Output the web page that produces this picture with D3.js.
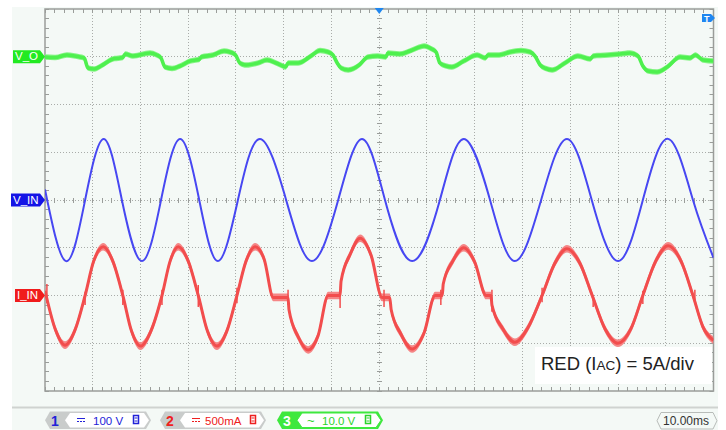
<!DOCTYPE html>
<html>
<head>
<meta charset="utf-8">
<script src="https://cdn.jsdelivr.net/npm/d3@7"></script>
<style>
  html, body { margin: 0; padding: 0; background: #ffffff; }
  svg { display: block; }
  text { font-family: "Liberation Sans", Arial, sans-serif; }
</style>
</head>
<body>
<svg id="scope" width="726" height="430"></svg>
<script>
// ---- Acquisition settings -------------------------------------------------
// Time base 10 ms/div over 14 divisions, trigger point at the centre.
const timeGrid = [-70, -60, -50, -40, -30, -20, -10, 0, 10, 20, 30, 40, 50, 60, 70];
const divGrid = [-4, -3, -2, -1, 0, 1, 2, 3, 4];

// CH1  V_IN, 100 V/div, [ms, V]
const vinPoints = [
  [-70, 22], [-65.6, -128], [-61.6, 0], [-57.7, 128], [-53.9, 0], [-49.7, -128],
  [-45.7, 0], [-41.7, 128], [-37.7, 0], [-33.8, -128], [-29.6, 0], [-25.0, 128],
  [-19.5, 0], [-14.1, -128], [-8.6, 0], [-3.6, 128], [1.2, 0], [6.9, -128],
  [12.7, 0], [17.7, 128], [23.2, 0], [28.4, -128], [33.9, 0], [39.3, 128],
  [44.5, 0], [50.0, -128], [55.2, 0], [60.5, 128], [65.7, 0], [70, -121]
];

// CH2  I_IN, 5 A/div, [ms, A]
const iinPoints = [
  [-70, 0.5], [-67.8, -3.6], [-65.8, -5.2], [-63.7, -3.6], [-61.6, 0], [-59.8, 3.6],
  [-57.8, 5.1], [-55.8, 3.6], [-53.7, 0], [-51.9, -3.7], [-50.0, -5.3], [-47.8, -3.7],
  [-45.5, 0], [-43.8, 3.6], [-42.1, 5.1], [-40.0, 3.6], [-37.9, 0], [-36.0, -3.7],
  [-34.0, -5.3], [-31.9, -3.7], [-29.8, 0], [-27.9, 3.6], [-26.0, 5.1], [-24.1, 3.8],
  [-22.2, -0.2], [-19.1, -0.2], [-18.9, -1.5], [-17.0, -4.3], [-14.9, -5.7], [-12.8, -4.2],
  [-10.7, 0], [-8.2, 0], [-8.0, 1.5], [-6.1, 4.3], [-4.0, 6.0], [-1.7, 4.2],
  [0.6, -0.2], [2.2, -0.2], [2.5, -1.5], [4.5, -4.0], [6.9, -5.6], [9.4, -3.9],
  [11.7, 0], [13.2, 0], [13.4, 1.2], [15.4, 3.6], [17.7, 5.0], [20.0, 3.5],
  [22.4, 0], [23.4, 0], [23.6, -1.0], [25.9, -3.5], [28.4, -4.9], [31.1, -3.4],
  [34.1, 0], [36.8, 3.4], [39.3, 4.9], [42.0, 3.4], [44.6, 0], [47.3, -3.5],
  [50.0, -5.0], [52.7, -3.5], [55.2, 0], [57.9, 3.6], [60.5, 5.2], [63.2, 3.6],
  [65.7, 0], [67.8, -3.3], [70, -4.7]
];
// switching glitches at the current zero crossings, [ms, low A, high A]
const iinSpikes = [
  [-69.6, -0.8, 1.2], [-61.6, -1.0, 0.4], [-53.7, -1.0, 0.6], [-45.5, -1.0, 0.6],
  [-37.9, -1.2, 1.1], [-29.8, -0.8, 0.8], [-19.1, -1.0, 0.6], [-8.2, -1.3, 0.4],
  [1.0, -1.2, 0.6], [12.9, -1.0, 0.6], [23.6, -1.7, 0.6], [34.1, -0.7, 0.8],
  [44.8, -1.2, 0.0], [55.2, -0.9, 0.5], [66.1, -0.8, 0.6]
];

// CH3  V_O ripple, AC coupled, 10 V/div, [ms, V]
const voPoints = [
  [-70, -0.05], [-67.9, -0.16], [-65.4, 0.37], [-62.7, -0.05], [-61.8, -0.26], [-61.0, -2.36],
  [-59.7, -2.57], [-58.3, -1.94], [-55.8, -0.47], [-54.3, -0.26], [-53.7, -0.16], [-53.2, 0.58],
  [-51.6, 0.16], [-48.0, 0.79], [-46.6, 0.37], [-45.7, -0.26], [-44.9, -2.15], [-43.4, -2.46],
  [-41.7, -1.94], [-39.6, -0.89], [-38.4, -0.68], [-37.7, -0.58], [-37.3, -0.05], [-34.8, 0.37],
  [-32.5, 1.20], [-31.3, 0.99], [-30.1, 0.37], [-29.2, -1.31], [-27.9, -1.73], [-25.4, -1.31],
  [-23.5, -0.68], [-21.6, -1.31], [-20.2, -1.94], [-19.6, -2.15], [-19.1, -1.31], [-17.0, -1.31],
  [-14.3, 0.16], [-12.4, 1.31], [-10.7, 0.99], [-9.7, 0.37], [-8.8, -1.31], [-8.0, -2.36],
  [-6.5, -2.77], [-4.2, -1.73], [-2.4, -0.05], [-0.3, 0.16], [1.4, -0.05], [1.8, 0.79],
  [4.3, 0.58], [6.4, 1.20], [7.9, 1.83], [9.4, 2.25], [11.0, 1.62], [11.9, 0.99],
  [12.7, -1.31], [14.0, -1.94], [15.2, -2.15], [17.7, -0.89], [20.5, 0.37], [22.2, -0.26],
  [22.8, 0.37], [25.1, 0.37], [27.4, 0.99], [29.7, 1.31], [31.6, 0.99], [32.6, 0.16],
  [33.7, -1.73], [34.9, -2.46], [36.2, -2.77], [38.9, -1.31], [41.6, 0.16], [44.2, -0.47],
  [44.8, 0.16], [47.9, 0.37], [50.4, 0.58], [52.5, 0.79], [54.2, 0.16], [55.2, -1.94],
  [56.3, -2.98], [58.2, -3.19], [60.3, -2.15], [63.0, -0.05], [65.1, -0.26], [66.2, 0.37],
  [67.8, -0.68], [70, -0.89]
];

// channel tags and status bar
const channelNames = ["V_O", "V_IN", "I_IN"];
const statusNumbers = ["1", "2", "3"];
const statusScales = ["100 V", "500mA", "10.0 V"];
const timebaseLabel = "10.00ms";
const noteMain = ["RED (I", "AC", ") = 5A/div"];

// ---- Layout ----------------------------------------------------------------
const P = { left: 45, right: 713.5, top: 9, bottom: 391 };
const COL = {
  bg: "#f4f9f6", grid: "#a9aca9", border: "#9a9d9a",
  vin: "#4747f2", vinTag: "#1414e6",
  iin: "#f24d4d", iinHalo: "#f58686", iinTag: "#f01c1c",
  vo: "#4ef04e", voHalo: "#86f486", voTag: "#22ea22",
  trig: "#1f86f0"
};

const svg = d3.select("#scope");
const x = d3.scaleLinear().domain([timeGrid[0], timeGrid[timeGrid.length - 1]]).range([P.left, P.right]);
const yDiv = d3.scaleLinear().domain([-4, 4]).range([P.bottom, P.top]);
// each channel: value scale folded onto the 8-division screen with its offset
const yVin = d3.scaleLinear().domain([-400, 400]).range([P.bottom, P.top]); // 100 V/div, 0 div
const yIin = d3.scaleLinear().domain([-10, 30]).range([P.bottom, P.top]);   // 5 A/div, -2 div
const yVo = d3.scaleLinear().domain([-70, 10]).range([P.bottom, P.top]);    // 10 V/div, +3 div

const crisp = v => Math.floor(v) + 0.5;

// background
svg.append("rect").attr("width", 726).attr("height", 430).attr("fill", "#ffffff");
svg.append("rect").attr("x", 12).attr("y", 7).attr("width", 706).attr("height", 423).attr("fill", COL.bg);

// ---- Graticule ----------------------------------------------------------------
const grid = svg.append("g");
grid.selectAll("line.v").data(timeGrid.slice(1, -1)).join("line")
  .attr("x1", d => crisp(x(d))).attr("x2", d => crisp(x(d)))
  .attr("y1", P.top).attr("y2", P.bottom)
  .attr("stroke", COL.grid).attr("stroke-dasharray", "1,2");
grid.selectAll("line.h").data(divGrid.slice(1, -1)).join("line")
  .attr("y1", d => crisp(yDiv(d))).attr("y2", d => crisp(yDiv(d)))
  .attr("x1", P.left).attr("x2", P.right)
  .attr("stroke", COL.grid).attr("stroke-dasharray", "1,2");

// minor ticks: 5 per division
const minorT = d3.range(timeGrid[0], timeGrid[timeGrid.length - 1] + 0.01, 2);
const minorD = d3.range(-4, 4.01, 0.2);
const tickLen = 4, crossLen = 2.5;
const tk = svg.append("g").attr("stroke", COL.border).attr("stroke-width", 1);
tk.selectAll("line.tt").data(minorT).join("line")
  .attr("x1", d => crisp(x(d))).attr("x2", d => crisp(x(d)))
  .attr("y1", P.top).attr("y2", P.top + tickLen);
tk.selectAll("line.tb").data(minorT).join("line")
  .attr("x1", d => crisp(x(d))).attr("x2", d => crisp(x(d)))
  .attr("y1", P.bottom).attr("y2", P.bottom - tickLen);
tk.selectAll("line.tl").data(minorD).join("line")
  .attr("y1", d => crisp(yDiv(d))).attr("y2", d => crisp(yDiv(d)))
  .attr("x1", P.left).attr("x2", P.left + tickLen);
tk.selectAll("line.tr").data(minorD).join("line")
  .attr("y1", d => crisp(yDiv(d))).attr("y2", d => crisp(yDiv(d)))
  .attr("x1", P.right).attr("x2", P.right - tickLen);
// centre crosshair ticks
tk.selectAll("line.cx").data(minorT).join("line")
  .attr("x1", d => crisp(x(d))).attr("x2", d => crisp(x(d)))
  .attr("y1", crisp(yDiv(0)) - crossLen).attr("y2", crisp(yDiv(0)) + crossLen);
tk.selectAll("line.cy").data(minorD).join("line")
  .attr("y1", d => crisp(yDiv(d))).attr("y2", d => crisp(yDiv(d)))
  .attr("x1", crisp(x(0)) - crossLen).attr("x2", crisp(x(0)) + crossLen);

// outer frame
svg.append("rect")
  .attr("x", P.left).attr("y", P.top)
  .attr("width", P.right - P.left).attr("height", P.bottom - P.top)
  .attr("fill", "none").attr("stroke", COL.border).attr("stroke-width", 1.5);

// ---- Traces ----------------------------------------------------------------
svg.append("clipPath").attr("id", "screen")
  .append("rect").attr("x", P.left).attr("y", P.top)
  .attr("width", P.right - P.left).attr("height", P.bottom - P.top);
const traces = svg.append("g").attr("clip-path", "url(#screen)");

// V_O: noisy band
const voHalf = 2.7;
traces.append("path").datum(voPoints)
  .attr("d", d3.area().curve(d3.curveMonotoneX)
    .x(d => x(d[0])).y0(d => yVo(d[1]) + voHalf).y1(d => yVo(d[1]) - voHalf))
  .attr("fill", COL.voHalo);
traces.append("path").datum(voPoints)
  .attr("d", d3.line().curve(d3.curveMonotoneX).x(d => x(d[0])).y(d => yVo(d[1])))
  .attr("fill", "none").attr("stroke", COL.vo).attr("stroke-width", 3.6);

// V_IN: clean sine
traces.append("path").datum(vinPoints)
  .attr("d", d3.line().curve(d3.curveNatural).x(d => x(d[0])).y(d => yVin(d[1])))
  .attr("fill", "none").attr("stroke", COL.vin).attr("stroke-width", 2);

// I_IN: wide noisy band plus switching spikes
const iinHalf = 3.8;
traces.append("path").datum(iinPoints)
  .attr("d", d3.area().curve(d3.curveMonotoneX)
    .x(d => x(d[0])).y0(d => yIin(d[1]) + iinHalf).y1(d => yIin(d[1]) - iinHalf))
  .attr("fill", COL.iinHalo);
traces.append("path").datum(iinPoints)
  .attr("d", d3.line().curve(d3.curveMonotoneX).x(d => x(d[0])).y(d => yIin(d[1])))
  .attr("fill", "none").attr("stroke", COL.iin).attr("stroke-width", 3);
traces.selectAll("line.spike").data(iinSpikes).join("line")
  .attr("x1", d => x(d[0])).attr("x2", d => x(d[0]))
  .attr("y1", d => yIin(d[1])).attr("y2", d => yIin(d[2]))
  .attr("stroke", COL.iin).attr("stroke-width", 1.5);

// ---- Markers ---------------------------------------------------------------
const tagRows = [
  { name: channelNames[0], y: yVo(0), left: 13, color: COL.voTag },
  { name: channelNames[1], y: yVin(0), left: 11, color: COL.vinTag },
  { name: channelNames[2], y: yIin(0), left: 15, color: COL.iinTag }
];
const tags = svg.append("g").selectAll("g").data(tagRows).join("g");
tags.append("path")
  .attr("d", d => `M${d.left},${d.y - 6.5}H${P.left - 5}L${P.left},${d.y}L${P.left - 5},${d.y + 6.5}H${d.left}Z`)
  .attr("fill", d => d.color);
tags.append("text")
  .attr("x", d => d.left + 2).attr("y", d => d.y + 3.6)
  .attr("fill", "#ffffff").attr("font-size", 11.5).text(d => d.name);

// trigger position (top) and trigger level (right)
svg.append("path")
  .attr("d", `M${x(0) - 4.5},${P.top - 1}H${x(0) + 4.5}L${x(0)},${P.top + 5}Z`)
  .attr("fill", COL.trig);
svg.append("path")
  .attr("d", `M702,14H711L715,18L711,22H702Z`).attr("fill", COL.trig);
svg.append("text").attr("x", 704).attr("y", 21.5).attr("fill", "#fff")
  .attr("font-size", 9).attr("font-weight", "bold").text("T");

// ---- Scale note ------------------------------------------------------------
svg.append("rect").attr("x", 535).attr("y", 347).attr("width", 177).attr("height", 37)
  .attr("fill", "#ffffff");
const note = svg.append("text").attr("x", 541).attr("y", 370)
  .attr("fill", "#222").attr("font-family", "Roboto, sans-serif").attr("font-size", 18.5);
note.append("tspan").text(noteMain[0]);
note.append("tspan").attr("font-size", 13.5).text(noteMain[1]);
note.append("tspan").text(noteMain[2]);

// ---- Status bar ------------------------------------------------------------
svg.append("line").attr("x1", 12).attr("x2", 718).attr("y1", 407.5).attr("y2", 407.5)
  .attr("stroke", "#cfd3d0").attr("stroke-width", 2);

const chev = (x0, x1, y0, y1, p) => {
  const yc = (y0 + y1) / 2;
  return `M${x0},${yc}L${x0 + p},${y0}H${x1 - p}L${x1},${yc}L${x1 - p},${y1}H${x0 + p}Z`;
};
const statusRows = [
  { n: statusNumbers[0], s: statusScales[0], x0: 45, tx: 48, bx: 88, color: "#2222d8", green: false, dc: true },
  { n: statusNumbers[1], s: statusScales[1], x0: 160, tx: 45, bx: 90, color: "#ee2020", green: false, dc: true },
  { n: statusNumbers[2], s: statusScales[2], x0: 277, tx: 45, bx: 88, color: "#2bd42b", green: true, dc: false }
];
const sb = svg.append("g").selectAll("g").data(statusRows).join("g")
  .attr("transform", d => `translate(${d.x0},0)`);
sb.append("path").attr("d", chev(0, 106, 411.5, 429, 5))
  .attr("fill", d => d.green ? "#3ee83e" : "#c9cccb");
sb.append("text").attr("x", 6).attr("y", 425.5)
  .attr("font-size", 14).attr("font-weight", "bold")
  .attr("fill", d => d.green ? "#ffffff" : d.color).text(d => d.n);
sb.append("path").attr("d", chev(20, 104, 413, 427.5, 5))
  .attr("fill", "#ffffff")
  .attr("stroke", d => d.green ? "#3ee83e" : "none");
// coupling symbols
sb.filter(d => d.dc).append("path")
  .attr("d", "M32,418.5H40M32,421.5H34M35,421.5H37M38,421.5H40")
  .attr("stroke", d => d.color).attr("stroke-width", 1.2);
sb.filter(d => !d.dc).append("text").attr("x", 30).attr("y", 424.5)
  .attr("font-size", 13).attr("fill", d => d.color).text("~");
sb.append("text").attr("x", d => d.tx).attr("y", 424.5)
  .attr("font-size", 11.5).attr("fill", d => d.color).text(d => d.s);
// bandwidth-limit badge
sb.append("rect").attr("x", d => d.bx + 0.5).attr("y", 415.5).attr("width", 5).attr("height", 8)
  .attr("fill", "#fff").attr("stroke", d => d.color).attr("stroke-width", 1.5);
sb.append("path").attr("d", d => `M${d.bx + 1.5},418H${d.bx + 4.5}M${d.bx + 1.5},421H${d.bx + 4.5}`)
  .attr("stroke", d => d.color).attr("stroke-width", 1);

// time base readout
svg.append("path").attr("d", chev(657, 717, 412.5, 429, 4))
  .attr("fill", "#f4f9f6").attr("stroke", "#b8bcb9");
svg.append("text").attr("x", 663).attr("y", 425)
  .attr("font-size", 12).attr("fill", "#333").text(timebaseLabel);
</script>
</body>
</html>
